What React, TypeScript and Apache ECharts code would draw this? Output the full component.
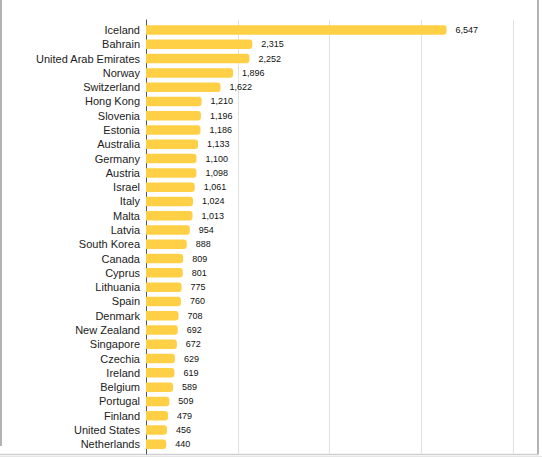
import React, { useEffect, useRef } from "react";
import * as echarts from "echarts";

const countries = [
  "Iceland", "Bahrain", "United Arab Emirates", "Norway", "Switzerland",
  "Hong Kong", "Slovenia", "Estonia", "Australia", "Germany",
  "Austria", "Israel", "Italy", "Malta", "Latvia",
  "South Korea", "Canada", "Cyprus", "Lithuania", "Spain",
  "Denmark", "New Zealand", "Singapore", "Czechia", "Ireland",
  "Belgium", "Portugal", "Finland", "United States", "Netherlands",
];

const values = [
  6547, 2315, 2252, 1896, 1622,
  1210, 1196, 1186, 1133, 1100,
  1098, 1061, 1024, 1013, 954,
  888, 809, 801, 775, 760,
  708, 692, 672, 629, 619,
  589, 509, 479, 456, 440,
];

const xMin = 0;
const xMax = 8000;
const xInterval = 2000;

export default function App() {
  const ref = useRef<HTMLDivElement>(null);

  useEffect(() => {
    if (!ref.current) return;
    const chart = echarts.init(ref.current, null, { renderer: "svg" });
    const font = "Arial, 'Liberation Sans', sans-serif";
    chart.setOption({
      animation: false,
      backgroundColor: "#ffffff",
      grid: [
        { left: 146, right: 28.7, top: 20, bottom: 3, containLabel: false },
        { left: 146, right: 28.7, top: 22.9, bottom: 5.6, containLabel: false },
      ],
      xAxis: [
        {
          gridIndex: 0,
          type: "value",
          min: xMin,
          max: xMax,
          interval: xInterval,
          axisLabel: { show: false },
          axisTick: { show: false },
          axisLine: { show: false },
          splitLine: { show: true, lineStyle: { color: "#e0e0e0", width: 1 } },
        },
        {
          gridIndex: 1,
          type: "value",
          min: xMin,
          max: xMax,
          interval: xInterval,
          axisLabel: { show: false },
          axisTick: { show: false },
          axisLine: { show: false },
          splitLine: { show: false },
        },
      ],
      yAxis: [
        {
          gridIndex: 0,
          type: "value",
          min: 0,
          max: 1,
          axisLabel: { show: false },
          axisTick: { show: false },
          splitLine: { show: false },
          axisLine: { show: true, onZero: false, lineStyle: { color: "#555555", width: 1 } },
        },
        {
          gridIndex: 1,
          type: "category",
          inverse: true,
          data: countries,
          axisTick: { show: false },
          axisLine: { show: false },
          splitLine: { show: false },
          axisLabel: {
            interval: 0,
            color: "#222222",
            fontSize: 11,
            fontFamily: font,
            margin: 6,
          },
        },
      ],
      series: [
        {
          type: "bar",
          xAxisIndex: 1,
          yAxisIndex: 1,
          data: values,
          barWidth: 9.5,
          itemStyle: { color: "#FFCF45", borderRadius: [0, 3, 3, 0] },
          label: {
            show: true,
            position: "right",
            distance: 9,
            color: "#111111",
            fontSize: 9,
            fontFamily: font,
            formatter: (p: any) => Number(p.value).toLocaleString("en-US"),
          },
        },
      ],
      graphic: [
        {
          type: "line",
          shape: { x1: 1, y1: 0, x2: 1, y2: 446 },
          style: { stroke: "#9a9a9a", lineWidth: 1.5 },
        },
        {
          type: "line",
          shape: { x1: 538, y1: 0, x2: 538, y2: 455 },
          style: { stroke: "#9a9a9a", lineWidth: 1.5 },
        },
        {
          type: "line",
          shape: { x1: 0, y1: 454.5, x2: 539, y2: 454.5 },
          style: { stroke: "#d0d0d0", lineWidth: 1.5 },
        },
        {
          type: "line",
          shape: { x1: 0, y1: 456.5, x2: 542, y2: 456.5 },
          style: { stroke: "#e6e6e6", lineWidth: 1 },
        },
      ],
    });
    return () => chart.dispose();
  }, []);

  return (
    <div
      ref={ref}
      style={{ position: "absolute", left: 0, top: 0, width: 542, height: 457 }}
    />
  );
}
